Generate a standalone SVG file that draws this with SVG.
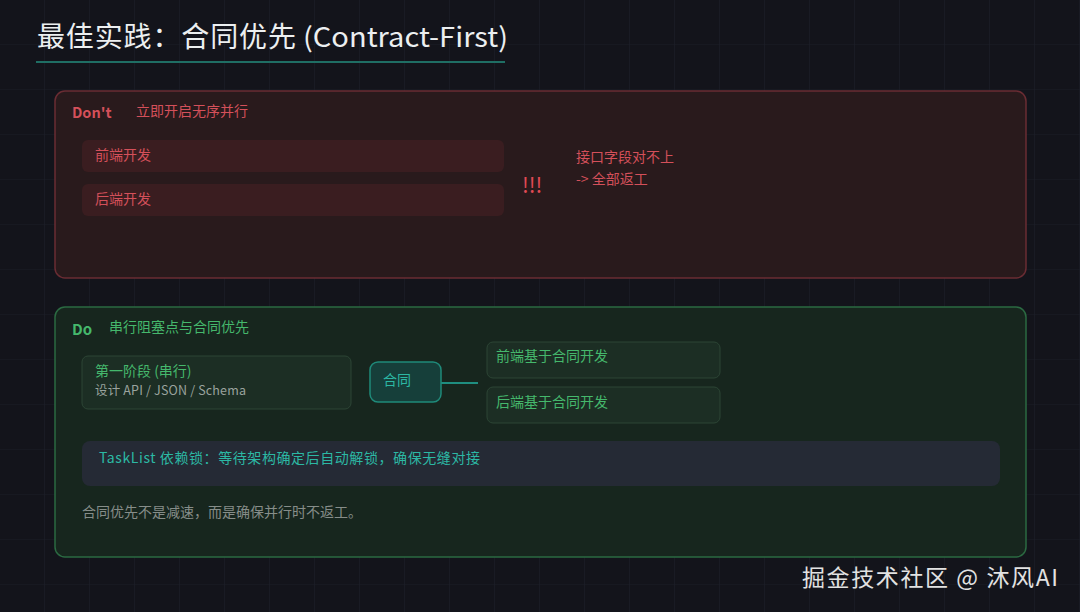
<svg xmlns="http://www.w3.org/2000/svg" width="1080" height="612" viewBox="0 0 1080 612">
<defs>
<pattern id="grid" width="45" height="45" patternUnits="userSpaceOnUse">
<path d="M45 0V45M0 45H45" fill="none" stroke="#1c1e28" stroke-width="1.2"/>
</pattern>
<style>
text{font-family:"Noto Sans CJK SC","Noto Sans",sans-serif}
.red{fill:#d4505a}
.green{fill:#45b86c}
.teal{fill:#2cb8a4}
.rbox{fill:#3a1d20}
.gbox{fill:#1c2e24;stroke:#2c4535;stroke-width:1}
</style>
</defs>
<rect width="1080" height="612" fill="#13141b"/>
<rect width="1080" height="612" fill="url(#grid)"/>
<g id="title">
<text x="37" y="47" font-size="28" fill="#eceff0" textLength="259">最佳实践：合同优先</text>
<text x="303" y="47" font-size="27" fill="#eceff0" textLength="205" lengthAdjust="spacingAndGlyphs">(Contract-First)</text>
<rect x="36" y="61" width="469" height="2" fill="#1f6e64"/>
</g>
<g id="dont-panel">
<rect x="55" y="91" width="971" height="187" rx="10" fill="#291a1c" stroke="#6a2c33" stroke-width="1.5"/>
<text x="72" y="118" font-size="14.5" font-weight="600" class="red">Don't</text>
<text x="136" y="116" font-size="14" class="red">立即开启无序并行</text>
</g>
<g id="dont-frontend">
<rect x="82" y="140" width="422" height="32" rx="6" class="rbox"/>
<text x="95" y="160" font-size="14" class="red">前端开发</text>
</g>
<g id="dont-backend">
<rect x="82" y="184" width="422" height="32" rx="6" class="rbox"/>
<text x="95" y="204" font-size="14" class="red">后端开发</text>
</g>
<g id="dont-alert">
<text x="522" y="193" font-size="21" fill="#e04a55">!!!</text>
<text x="576" y="162" font-size="14" class="red">接口字段对不上</text>
<text x="576" y="184" font-size="14" class="red">-&gt; 全部返工</text>
</g>
<g id="do-panel">
<rect x="55" y="307" width="971" height="250" rx="10" fill="#17261e" stroke="#2b6a42" stroke-width="1.5"/>
<text x="72" y="335" font-size="15" font-weight="600" class="green">Do</text>
<text x="109" y="332" font-size="14" class="green">串行阻塞点与合同优先</text>
</g>
<g id="connectors">
<line x1="441" y1="383" x2="478" y2="383" stroke="#1f8e80" stroke-width="2"/>
</g>
<g id="phase1">
<rect x="82" y="356" width="269" height="53" rx="6" class="gbox"/>
<text x="95" y="376" font-size="14" class="green">第一阶段 (串行)</text>
<text x="95" y="395" font-size="12.5" fill="#9aa39e" textLength="151">设计 API / JSON / Schema</text>
</g>
<g id="contract">
<rect x="370" y="362" width="71" height="40" rx="8" fill="#163f3a" stroke="#1f8a7a" stroke-width="1.5"/>
<text x="383" y="385" font-size="14" class="teal">合同</text>
</g>
<g id="frontend">
<rect x="487" y="342" width="233" height="36" rx="6" class="gbox"/>
<text x="496" y="361" font-size="14" class="green">前端基于合同开发</text>
</g>
<g id="backend">
<rect x="487" y="387" width="233" height="36" rx="6" class="gbox"/>
<text x="496" y="407" font-size="14" class="green">后端基于合同开发</text>
</g>
<g id="tasklist">
<rect x="82" y="441" width="918" height="45" rx="8" fill="#252a35"/>
<text x="99" y="463" font-size="14" class="teal" textLength="381">TaskList 依赖锁：等待架构确定后自动解锁，确保无缝对接</text>
</g>
<g id="note">
<text x="82" y="517" font-size="14" fill="#868d89">合同优先不是减速，而是确保并行时不返工。</text>
</g>
<g id="watermark">
<text x="802" y="586" font-size="23" fill="#e2e2e2" textLength="256">掘金技术社区 @ 沐风AI</text>
</g>
</svg>
